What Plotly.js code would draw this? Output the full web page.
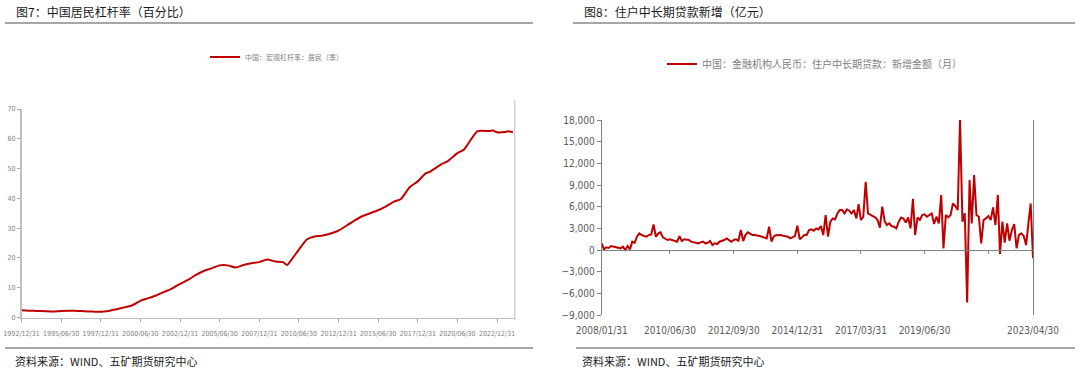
<!DOCTYPE html>
<html>
<head>
<meta charset="utf-8">
<script src="https://cdn.plot.ly/plotly-3.0.1.min.js"></script>
<style>
html,body{margin:0;padding:0;background:#fff;}
#chart{width:1080px;height:374px;}
</style>
</head>
<body>
<div id="chart"></div>
<script>
// ---------- Data: household leverage ratio (quarterly, %) ----------
const leverageDates = [
  '1992-12-31','1993-06-30','1993-12-31','1994-06-30','1994-12-31','1995-06-30','1995-12-31',
  '1996-06-30','1996-12-31','1997-06-30','1997-12-31','1998-06-30','1998-12-31','1999-06-30',
  '1999-12-31','2000-06-30','2000-12-31','2001-06-30','2001-12-31','2002-06-30','2002-12-31',
  '2003-06-30','2003-12-31','2004-06-30','2004-12-31','2005-06-30','2005-12-31','2006-06-30',
  '2006-12-31','2007-06-30','2007-12-31','2008-06-30','2008-12-31','2009-06-30','2009-09-30',
  '2009-12-31','2010-06-30','2010-12-31','2011-06-30','2011-12-31','2012-06-30','2012-12-31',
  '2013-06-30','2013-12-31','2014-06-30','2014-12-31','2015-06-30','2015-12-31','2016-06-30',
  '2016-11-30','2017-06-30','2017-12-31','2018-06-30','2018-09-30','2019-06-30','2019-10-31',
  '2020-06-30','2020-11-30','2021-04-30','2021-09-30','2021-12-31','2022-06-30','2022-09-30',
  '2022-12-31','2023-06-30','2023-08-31','2023-12-31'
];
const leverageValues = [
  2.4,2.3,2.2,2.1,2.0,2.2,2.3,
  2.2,2.1,2.0,1.9,2.2,2.8,3.4,
  4.1,5.6,6.5,7.4,8.6,9.7,11.3,
  12.6,14.3,15.6,16.5,17.5,17.5,16.8,
  17.6,18.2,18.6,19.5,18.8,18.6,17.6,
  19.2,22.8,26.2,27.2,27.5,28.2,29.2,
  30.8,32.5,34.0,35.0,36.0,37.3,38.9,
  39.7,43.8,45.7,48.4,48.9,51.5,52.3,
  55.2,56.4,59.6,62.5,62.7,62.6,62.8,
  62.2,62.3,62.5,62.2
];
const leverageTickVals = ['1992-12-31','1995-06-30','1997-12-31','2000-06-30','2002-12-31','2005-06-30',
  '2007-12-31','2010-06-30','2012-12-31','2015-06-30','2017-12-31','2020-06-30','2022-12-31'];
const leverageTickText = ['1992/12/31','1995/06/30','1997/12/31','2000/06/30','2002/12/31','2005/06/30',
  '2007/12/31','2010/06/30','2012/12/31','2015/06/30','2017/12/31','2020/06/30','2022/12/31'];
const leverageYTicks = [0,10,20,30,40,50,60,70];

// ---------- Data: new household mid/long-term loans (monthly, 100m CNY), from 2008-01 ----------
const loanStart = {year: 2008, month: 1};
const loans2008 = [920,100,370,280,550,460,460,370,230,460,0,550];
const loans2009 = [90,1150,1000,1840,2300,2070,1930,1840,2070,2160,3540,1840];
const loans2010 = [2300,2440,1750,1610,1380,1470,1380,1240,1150,1930,1240,1470];
const loans2011 = [1380,1380,1150,1060,1010,920,1060,1150,920,1010,1240,690];
const loans2012 = [920,830,1150,1240,1380,1610,1380,1150,1380,1470,1290,2760];
const loans2013 = [1240,2070,2440,2210,2070,2070,2030,1930,1840,1700,1610,3220];
const loans2014 = [1150,1840,2070,2030,2070,1980,1930,1840,1610,1750,1930,3360];
const loans2015 = [1470,1750,2070,2070,2760,2850,2670,3000,2850,3310,2070,4840];
const loans2016 = [1840,3900,4370,4240,5070,5530,5530,5070,5620,5440,5070,5530];
const loans2017 = [4370,6360,4150,4610,9450,5070,4840,4700,4520,4150,3090,6000];
const loans2018 = [4000,3450,3690,3320,3230,3000,3900,4500,4350,3800,4500,3000];
const loans2019 = [7100,2070,4520,4150,4840,4930,4610,4840,5070,3590,4610,3690];
const loans2020 = [7600,230,4840,4520,4840,6450,6080,5530,18060,3920,5070,-7280];
const loans2021 = [9680,3690,10370,4840,4610,920,4150,4380,4700,4150,5900,3460];
const loans2022 = [7600,-550,3920,1010,3690,1290,2760,3590,230,2070,2300,1940];
const loans2023 = [690,3500,6450,-1150];
const loanTickVals = ['2008-01-31','2010-06-30','2012-09-30','2014-12-31','2017-03-31','2019-06-30','2023-04-30'];
const loanTickText = ['2008/01/31','2010/06/30','2012/09/30','2014/12/31','2017/03/31','2019/06/30','2023/04/30'];
const loanMinorTicks = ['2010-06-30','2012-09-30','2014-12-31','2017-03-31','2019-06-30','2021-09-30'];
const loanYTicks = [-9000,-6000,-3000,0,3000,6000,9000,12000,15000,18000];

// build monthly series
const loanValues = [].concat(loans2008,loans2009,loans2010,loans2011,loans2012,loans2013,loans2014,
  loans2015,loans2016,loans2017,loans2018,loans2019,loans2020,loans2021,loans2022,loans2023);
const loanDates = loanValues.map((v,i)=>{
  const y = loanStart.year + Math.floor((loanStart.month-1+i)/12);
  const m = (loanStart.month-1+i)%12;           // 0-based
  const last = new Date(Date.UTC(y, m+1, 0)).getUTCDate();
  return y + '-' + String(m+1).padStart(2,'0') + '-' + String(last).padStart(2,'0');
});

// ---------- helpers (pixel -> paper) ----------
const W = 1080, H = 374;
const px = x => x / W;
const py = y => 1 - y / H;

const RED = '#c00000';
const narrow = '"Liberation Sans Narrow", "Arial Narrow", "DejaVu Sans Condensed", "Liberation Sans", sans-serif';
const cjk = '"Noto Sans CJK SC", "Noto Sans", sans-serif';

const leftY = [py(317.5), py(109)];
const rightY = [py(315), py(120)];
const zeroPos = rightY[0] + (9000/27000)*(rightY[1]-rightY[0]);

const traces = [
  {
    type:'scatter', mode:'lines', x: leverageDates, y: leverageValues,
    xaxis:'x', yaxis:'y', name:'中国：宏观杠杆率：居民（季）',
    line:{color:RED, width:2, shape:'spline', smoothing:0.6}, legend:'legend', hoverinfo:'x+y'
  },
  {
    type:'scatter', mode:'lines', x: loanDates, y: loanValues,
    xaxis:'x2', yaxis:'y2', name:'中国：金融机构人民币：住户中长期贷款：新增金额（月）',
    line:{color:RED, width:2}, legend:'legend2', hoverinfo:'x+y'
  },
  { type:'scatter', mode:'lines', x:[], y:[], xaxis:'x3', yaxis:'y2', showlegend:false, hoverinfo:'skip' }
];

const layout = {
  width: W, height: H,
  margin:{l:0,r:0,t:0,b:0},
  paper_bgcolor:'#fff', plot_bgcolor:'rgba(0,0,0,0)',
  showlegend:true,
  font:{family:cjk, color:'#595959'},
  xaxis:{
    domain:[px(21.5), px(514.7)], anchor:'y', type:'date',
    range:['1992-12-31','2024-02-10'],
    tickvals: leverageTickVals, ticktext: leverageTickText,
    ticks:'outside', ticklen:3, tickcolor:'#a6a6a6',
    showline:true, linecolor:'#bfbfbf', linewidth:1.5,
    showgrid:false, zeroline:false,
    tickfont:{family:narrow, size:7, color:'#808080'}, ticklabelstandoff:6
  },
  yaxis:{
    domain:leftY, anchor:'x', range:[0,70],
    tickvals: leverageYTicks,
    ticks:'outside', ticklen:3, tickcolor:'#a6a6a6',
    showline:true, linecolor:'#bfbfbf', linewidth:1.5,
    showgrid:false, zeroline:false,
    tickfont:{family:narrow, size:7, color:'#808080'}
  },
  xaxis2:{
    domain:[px(601.7), px(1033)], anchor:'y2', type:'date',
    range:['2008-01-31','2023-04-30'],
    tickvals: loanTickVals, ticktext: loanTickText,
    ticks:'', showline:false, showgrid:false, zeroline:false,
    tickfont:{family:narrow, size:10, color:'#595959'}, ticklabelstandoff:8
  },
  xaxis3:{
    overlaying:'x2', anchor:'free', position: zeroPos, type:'date',
    range:['2008-01-31','2023-04-30'],
    tickvals: loanMinorTicks, showticklabels:false,
    ticks:'outside', ticklen:3, tickcolor:'#808080',
    showline:true, linecolor:'#808080', linewidth:1,
    showgrid:false, zeroline:false
  },
  yaxis2:{
    domain:rightY, anchor:'x2', range:[-9000,18000],
    tickvals: loanYTicks, tickformat:',d',
    ticks:'outside', ticklen:4, tickcolor:'#808080',
    showline:true, linecolor:'#808080', linewidth:1, mirror:true,
    showgrid:false, zeroline:false,
    tickfont:{family:narrow, size:10, color:'#595959'}
  },
  legend:{
    x:px(205), y:py(57), xanchor:'left', yanchor:'middle',
    bgcolor:'rgba(0,0,0,0)', borderwidth:0,
    font:{family:cjk, size:7, color:'#808080'}
  },
  legend2:{
    x:px(662), y:py(64), xanchor:'left', yanchor:'middle',
    bgcolor:'rgba(0,0,0,0)', borderwidth:0,
    font:{family:cjk, size:10, color:'#808080'}
  },
  annotations:[
    {text:'图7：中国居民杠杆率（百分比）', xref:'paper', yref:'paper', x:px(14), y:py(11),
     xanchor:'left', yanchor:'middle', showarrow:false, font:{family:cjk, size:12, color:'#1a1a1a'}},
    {text:'图8：住户中长期贷款新增（亿元）', xref:'paper', yref:'paper', x:px(582), y:py(11),
     xanchor:'left', yanchor:'middle', showarrow:false, font:{family:cjk, size:12, color:'#1a1a1a'}},
    {text:'资料来源：WIND、五矿期货研究中心', xref:'paper', yref:'paper', x:px(13), y:py(361),
     xanchor:'left', yanchor:'middle', showarrow:false, font:{family:cjk, size:11, color:'#1a1a1a'}},
    {text:'资料来源：WIND、五矿期货研究中心', xref:'paper', yref:'paper', x:px(580), y:py(361),
     xanchor:'left', yanchor:'middle', showarrow:false, font:{family:cjk, size:11, color:'#1a1a1a'}}
  ],
  shapes:[
    {type:'line', xref:'paper', yref:'paper', x0:px(5), x1:px(533), y0:py(23), y1:py(23), line:{color:'#a6a6a6', width:2}},
    {type:'line', xref:'paper', yref:'paper', x0:px(573), x1:px(1075), y0:py(23), y1:py(23), line:{color:'#a6a6a6', width:2}},
    {type:'line', xref:'paper', yref:'paper', x0:px(5), x1:px(533), y0:py(348), y1:py(348), line:{color:'#a6a6a6', width:2}},
    {type:'line', xref:'paper', yref:'paper', x0:px(576), x1:px(1075), y0:py(348), y1:py(348), line:{color:'#a6a6a6', width:2}},
    {type:'line', xref:'paper', yref:'paper', x0:px(514.7), x1:px(514.7), y0:py(100), y1:py(320), line:{color:'#d0d0d0', width:1.5}}
  ]
};

Plotly.newPlot('chart', traces, layout, {displayModeBar:false, staticPlot:true});
</script>
</body>
</html>
